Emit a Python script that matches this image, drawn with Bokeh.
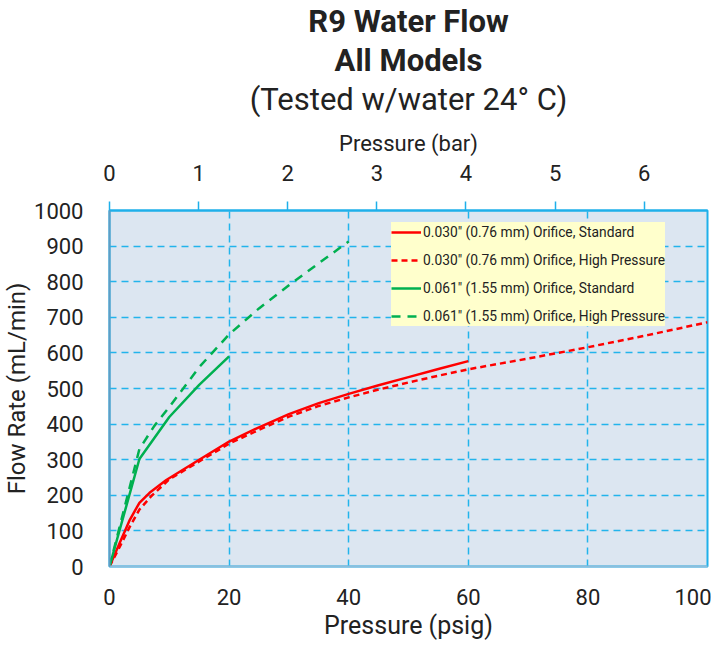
from bokeh.plotting import figure
from bokeh.models import Range1d, LinearAxis, Title, Legend, LegendItem, FixedTicker
from bokeh.embed import file_html
from bokeh.resources import INLINE

FONT = "Roboto"

red_std_x = [0, 1.7, 3.4, 5, 6.7, 9.5, 15, 20, 25, 30, 35, 40, 45, 50, 55, 60]
red_std_y = [0, 66, 131, 179, 207, 243, 300, 351, 391, 428, 459, 485, 509, 532, 555, 577]

red_hp_x = [0, 1.7, 3.4, 5, 7, 10, 15, 20, 25, 30, 35, 40, 45, 50, 55, 60, 70, 80, 90, 100]
red_hp_y = [0, 55, 112, 160, 198, 245, 295, 345, 384, 421, 451, 475, 497, 517, 536, 554, 584, 616, 650, 686]

green_std_x = [0, 5, 10, 15, 20]
green_std_y = [0, 302, 420, 510, 590]

green_hp_x = [0, 2.5, 5, 7.5, 10, 15, 20, 25, 30, 35, 40]
green_hp_y = [0, 165, 330, 395, 448, 560, 652, 725, 790, 852, 913]

psi_ticks = [0, 20, 40, 60, 80, 100]
flow_ticks = [0, 100, 200, 300, 400, 500, 600, 700, 800, 900, 1000]
bar_ticks = [0, 1, 2, 3, 4, 5, 6]

labels = [
    '0.030" (0.76 mm) Orifice, Standard',
    '0.030" (0.76 mm) Orifice, High Pressure',
    '0.061" (1.55 mm) Orifice, Standard',
    '0.061" (1.55 mm) Orifice, High Pressure',
]

p = figure(width=711, height=644, output_backend="svg", toolbar_location=None,
           x_range=Range1d(0, 100), y_range=Range1d(0, 1000),
           min_border_left=102, min_border_right=4, min_border_bottom=78, min_border_top=10)
p.extra_x_ranges = {"bar": Range1d(0, 6.71)}

p.background_fill_color = "#dce6f1"
p.border_fill_color = "white"
p.outline_line_color = "#1fb0ea"
p.outline_line_width = 2

grid_color = "#22b4ec"
for g in (p.xgrid, p.ygrid):
    g.grid_line_color = grid_color
    g.grid_line_dash = "7 5"
    g.grid_line_width = 1.5
p.xgrid.ticker = FixedTicker(ticks=psi_ticks)
p.ygrid.ticker = FixedTicker(ticks=flow_ticks)

xa = p.xaxis[0]
xa.ticker = FixedTicker(ticks=psi_ticks)
xa.axis_label = "Pressure (psig)"
ya = p.yaxis[0]
ya.ticker = FixedTicker(ticks=flow_ticks)
ya.axis_label = "Flow Rate (mL/min)"
for ax, col in ((xa, "#8cbedc"), (ya, "#5f9ec4")):
    ax.axis_line_color = col
    ax.axis_line_width = 2
    ax.major_tick_line_color = None
    ax.major_tick_out = 0
    ax.major_tick_in = 0
    ax.minor_tick_line_color = None
    ax.minor_tick_out = 0
    ax.major_label_text_font = FONT
    ax.major_label_text_font_size = "22px"
    ax.major_label_text_color = "#222222"
    ax.major_label_text_line_height = 1.0
    ax.axis_label_text_font = FONT
    ax.axis_label_text_font_size = "24px"
    ax.axis_label_text_font_style = "normal"
    ax.axis_label_text_color = "#222222"
    ax.axis_label_text_line_height = 1.0
xa.axis_label_text_font_size = "25px"
xa.major_label_standoff = 22
xa.axis_label_standoff = 3
ya.major_label_standoff = 26
ya.axis_label_standoff = 0

ta = LinearAxis(x_range_name="bar", ticker=FixedTicker(ticks=bar_ticks),
                axis_label="Pressure (bar)")
ta.axis_line_color = "#1fb0ea"
ta.axis_line_width = 2
ta.major_tick_line_color = "#1fb0ea"
ta.major_tick_line_width = 1.5
ta.major_tick_out = 9
ta.major_tick_in = 0
ta.minor_tick_line_color = None
ta.minor_tick_out = 0
ta.major_label_text_font = FONT
ta.major_label_text_font_size = "22px"
ta.major_label_text_color = "#222222"
ta.major_label_standoff = 21
ta.axis_label_text_font = FONT
ta.axis_label_text_font_size = "22px"
ta.axis_label_text_font_style = "normal"
ta.axis_label_text_color = "#222222"
ta.axis_label_standoff = 6
p.add_layout(ta, "above")

r1 = p.line(red_std_x, red_std_y, line_color="#ff0000", line_width=2.5)
r2 = p.line(red_hp_x, red_hp_y, line_color="#ff0000", line_width=2.5, line_dash="6 4")
g1 = p.line(green_std_x, green_std_y, line_color="#00b050", line_width=2.5)
g2 = p.line(green_hp_x, green_hp_y, line_color="#00b050", line_width=2.5, line_dash="9 7")

legend = Legend(items=[LegendItem(label=labels[0], renderers=[r1]),
                       LegendItem(label=labels[1], renderers=[r2]),
                       LegendItem(label=labels[2], renderers=[g1]),
                       LegendItem(label=labels[3], renderers=[g2])],
                location=(282, 240))
legend.background_fill_color = "#ffffcc"
legend.background_fill_alpha = 1
legend.border_line_color = None
legend.label_text_font = FONT
legend.label_text_font_size = "13.8px"
legend.label_text_color = "#222222"
legend.glyph_width = 30
legend.glyph_height = 20
legend.label_height = 20
legend.spacing = 8
legend.padding = 8
legend.margin = 0
legend.label_standoff = 2
p.add_layout(legend, "center")

spacer = Title(text=" ", align="center", text_font=FONT, text_font_size="7px",
               standoff=0, offset=0)
t3 = Title(text="(Tested w/water 24° C)", align="center", text_font=FONT,
           text_font_size="31px", text_font_style="normal", text_color="#222222",
           standoff=0, offset=0)
t2 = Title(text="All Models", align="center", text_font=FONT,
           text_font_size="31px", text_font_style="bold", text_color="#222222",
           standoff=0)
t1 = Title(text="R9 Water Flow", align="center", text_font=FONT,
           text_font_size="31px", text_font_style="bold", text_color="#222222",
           standoff=0)
p.add_layout(spacer, "above")
p.add_layout(t3, "above")
p.add_layout(t2, "above")
p.add_layout(t1, "above")

open("out.html", "w").write(file_html(p, INLINE))
